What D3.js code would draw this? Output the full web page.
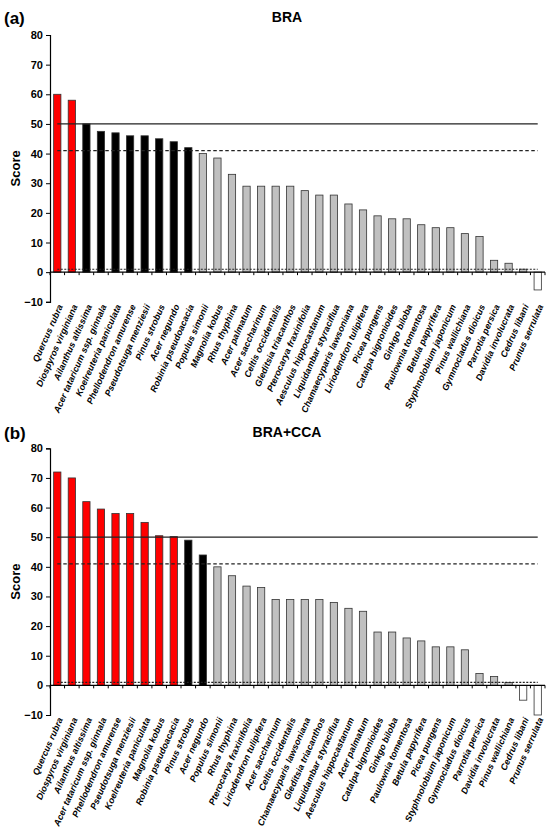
<!DOCTYPE html>
<html>
<head>
<meta charset="utf-8">
<script src="https://cdn.jsdelivr.net/npm/d3@7"></script>
<style>
  body { margin: 0; background: #fff; }
  svg { font-family: Arial, "Liberation Sans", sans-serif; }
</style>
</head>
<body>
<svg id="chart" width="550" height="829"></svg>
<script>
// panel (a) BRA
var braNames = ["Quercus rubra", "Diospyros virginiana", "Ailanthus altissima", "Acer tataricum ssp. ginnala",
  "Koelreuteria paniculata", "Phellodendron amurense", "Pseudotsuga menziesii", "Pinus strobus", "Acer negundo",
  "Robinia pseudoacacia", "Populus simonii", "Magnolia kobus", "Rhus thyphina", "Acer palmatum",
  "Acer saccharinum", "Celtis occidentalis", "Gleditsia triacanthos", "Pterocarya fraxinifolia",
  "Aesculus hippocastanum", "Liquidambar styraciflua", "Chamaecyparis lawsoniana", "Liriodendron tulipifera",
  "Picea pungens", "Catalpa bignonioides", "Ginkgo biloba", "Paulownia tomentosa", "Betula papyrifera",
  "Styphnolobium japonicum", "Pinus wallichiana", "Gymnocladus dioicus", "Parrotia persica",
  "Davidia involucrata", "Cedrus libani", "Prunus serrulata"]
var braValues = [60, 58, 50, 47.5, 47, 46, 46, 45, 44, 42, 40, 38.5, 33, 29, 29, 29, 29, 27.5, 26, 26, 23, 21,
  19, 18, 18, 16, 15, 15, 13, 12, 4, 3, 1, -6]

// panel (b) BRA+CCA
var ccaNames = ["Quercus rubra", "Diospyros virginiana", "Ailanthus altissima", "Acer tataricum ssp. ginnala",
  "Phellodendron amurense", "Pseudotsuga menziesii", "Koelreuteria paniculata", "Magnolia kobus",
  "Robinia pseudoacacia", "Pinus strobus", "Acer negundo", "Populus simonii", "Rhus thyphina",
  "Pterocarya fraxinifolia", "Liriodendron tulipifera", "Acer saccharinum", "Celtis occidentalis",
  "Chamaecyparis lawsoniana", "Gleditsia triacanthos", "Liquidambar styraciflua", "Aesculus hippocastanum",
  "Acer palmatum", "Catalpa bignonioides", "Ginkgo biloba", "Paulownia tomentosa", "Betula papyrifera",
  "Picea pungens", "Styphnolobium japonicum", "Gymnocladus dioicus", "Parrotia persica",
  "Davidia involucrata", "Pinus wallichiana", "Cedrus libani", "Prunus serrulata"]
var ccaValues = [72, 70, 62, 59.5, 58, 58, 55, 50.5, 50.2, 49, 44, 40, 37, 33.5, 33, 29, 29, 29, 29, 28, 26, 25,
  18, 18, 16, 15, 13, 13, 12, 4, 3, 1, -5, -10]

var yTicks = [-10, 0, 10, 20, 30, 40, 50, 60, 70, 80]
var thresholds = [50, 41, 1]

main()

function main() {
  var LEFT = 50
  var RIGHT = 545

  var svg = d3.select('#chart')

  drawPanel(svg, "(a)", "BRA", braNames, braValues, 35, 301.8, 18)
  drawPanel(svg, "(b)", "BRA+CCA", ccaNames, ccaValues, 448.3, 715, 433)

  function barColor(v) {
    if (v > 50) return "#ff0000"
    if (v >= 41) return "#000000"
    if (v > 0) return "#c0c0c0"
    return "#ffffff"
  }

  function drawPanel(svg, tag, title, names, values, yTop, yBottom, titleY) {
    var g = svg.append('g')

    var x = d3.scaleBand()
        .domain(names)
        .range([LEFT, RIGHT])
        .paddingInner(0.5)
        .paddingOuter(0.25)

    var y = d3.scaleLinear()
        .domain([-10, 80])
        .range([yBottom, yTop])

    var bw = x.bandwidth()
    var gap = (x.step() - bw) / 2

    g.append("text")
        .attr("x", 4)
        .attr("y", titleY + 6)
        .attr("font-size", 17)
        .attr("font-weight", "bold")
        .text(tag)

    g.append("text")
        .attr("x", 287)
        .attr("y", titleY + 4)
        .attr("font-size", 14)
        .attr("font-weight", "bold")
        .attr("text-anchor", "middle")
        .text(title)

    g.append("text")
        .attr("transform", "translate(20," + y(35) + ") rotate(-90)")
        .attr("font-size", 13)
        .attr("font-weight", "bold")
        .attr("text-anchor", "middle")
        .text("Score")

    // y axis
    var yAxis = g.append('g')
        .attr("transform", "translate(" + LEFT + ",0)")
        .call(d3.axisLeft(y).tickValues(yTicks).tickSize(4).tickPadding(3))
    yAxis.select(".domain").attr("stroke", "#000").attr("stroke-width", 1.2)
    yAxis.selectAll("text")
        .attr("font-size", 11)
        .attr("font-weight", "bold")
        .attr("font-family", "Arial, 'Liberation Sans', sans-serif")
        .attr("fill", "#000")

    // bars
    g.selectAll(".bar")
        .data(values)
        .enter().append("rect")
        .attr("class", "bar")
        .attr("x", function(d, i) { return x(names[i]) })
        .attr("y", function(d) { return y(Math.max(d, 0)) })
        .attr("width", bw)
        .attr("height", function(d) { return Math.abs(y(d) - y(0)) })
        .attr("fill", function(d) { return barColor(d) })
        .attr("stroke", "#333")
        .attr("stroke-width", 0.8)

    // threshold lines
    var x1 = x(names[0]) + bw / 2
    var x2 = x(names[names.length - 1]) + bw / 2
    g.selectAll(".thr")
        .data(thresholds)
        .enter().append("line")
        .attr("class", "thr")
        .attr("x1", x1)
        .attr("x2", x2)
        .attr("y1", function(d) { return y(d) })
        .attr("y2", function(d) { return y(d) })
        .attr("stroke", "#222")
        .attr("stroke-width", function(d, i) { return i == 0 ? 1.2 : 1.1 })
        .attr("stroke-dasharray", function(d, i) { return i == 0 ? null : (i == 1 ? "3.5,2.5" : "2,1.5") })

    // x axis at zero with ticks between categories
    var xAxis = g.append('g')
        .attr("transform", "translate(0," + y(0) + ")")
    xAxis.append("line")
        .attr("x1", LEFT)
        .attr("x2", RIGHT)
        .attr("stroke", "#000")
        .attr("stroke-width", 1.2)
    var bounds = names.map(function(n) { return x(n) - gap })
    bounds.push(x(names[names.length - 1]) + bw + gap)
    xAxis.selectAll(".xtick")
        .data(bounds)
        .enter().append("line")
        .attr("class", "xtick")
        .attr("x1", function(d) { return d })
        .attr("x2", function(d) { return d })
        .attr("y1", 0)
        .attr("y2", 3)
        .attr("stroke", "#000")

    // rotated category labels
    g.selectAll(".lbl")
        .data(names)
        .enter().append("text")
        .attr("class", "lbl")
        .attr("transform", function(d) {
          return "translate(" + (x(d) + bw / 2 + 3) + "," + (yBottom + 3) + ") rotate(-66)"
        })
        .attr("text-anchor", "end")
        .attr("dy", "0.35em")
        .attr("font-size", 9)
        .attr("font-weight", "bold")
        .attr("font-style", "italic")
        .text(function(d) { return d })
  }
}
</script>
</body>
</html>
